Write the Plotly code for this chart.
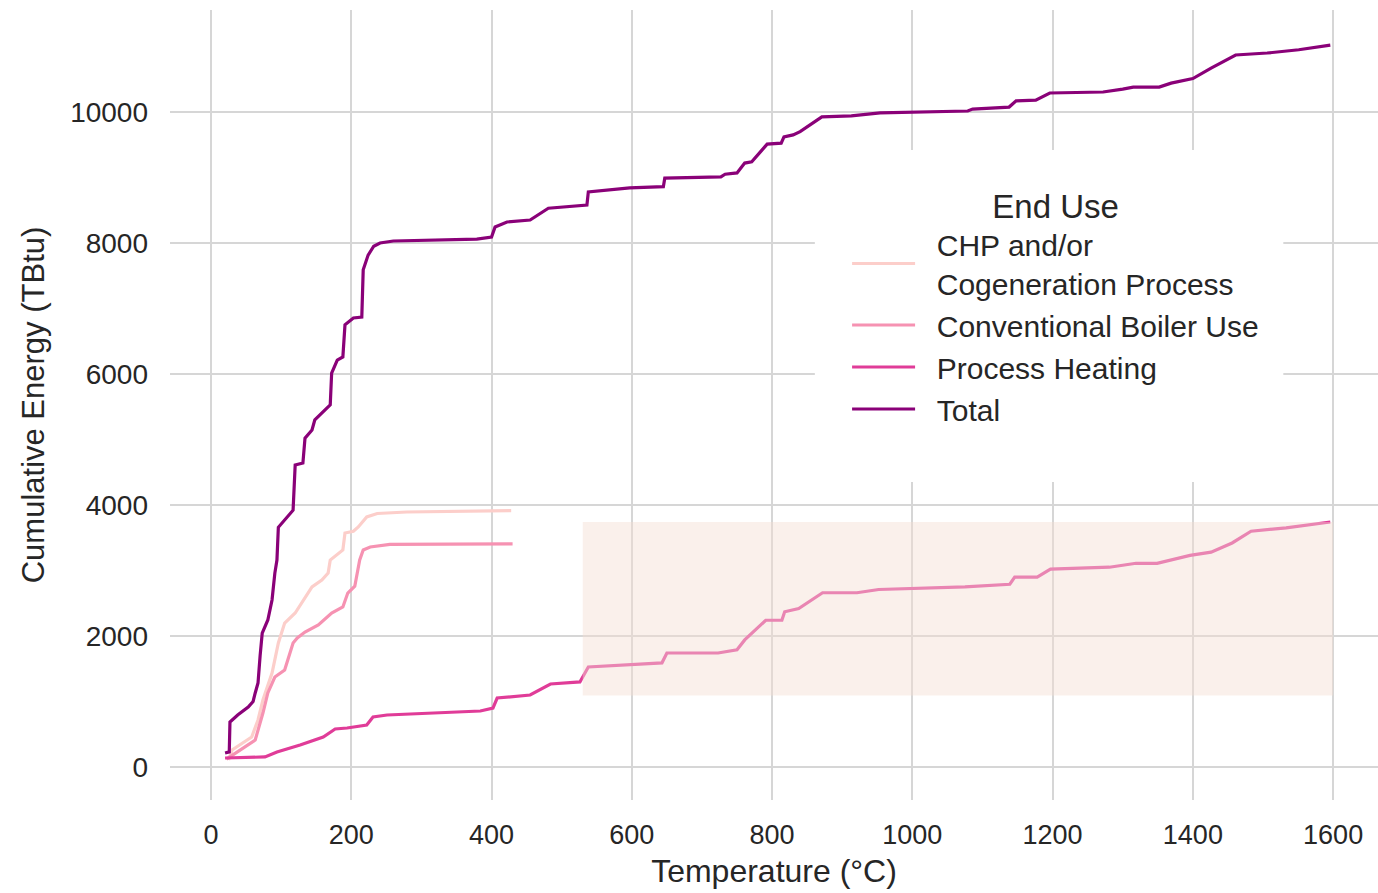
import plotly.graph_objects as go

# Cumulative energy vs. process temperature, by end use
chp_temp = [25, 30, 58, 67, 74, 87, 96, 105, 120, 134, 144, 158, 167, 170, 181, 188, 191,
            203, 210, 222, 237, 279, 428]
chp_energy = [107, 260, 458, 718, 1023, 1435, 1893, 2198, 2351, 2595, 2748, 2855, 2962, 3160,
              3250, 3313, 3572, 3600, 3664, 3817, 3870, 3893, 3915]

boiler_temp = [22, 40, 63, 74, 81, 91, 105, 117, 123, 134, 153, 172, 188, 195, 205, 212, 217,
               227, 255, 430]
boiler_energy = [120, 250, 412, 824, 1130, 1374, 1481, 1893, 1969, 2061, 2168, 2351, 2443,
                 2656, 2760, 3160, 3313, 3359, 3400, 3405]

heating_temp = [20, 77, 94, 127, 160, 177, 194, 222, 231, 251, 384, 402, 408, 455, 484, 526,
                538, 593, 643, 650, 723, 750, 761, 791, 814, 818, 838, 872, 921, 952, 1075,
                1139, 1146, 1178, 1197, 1281, 1319, 1349, 1396, 1426, 1456, 1483, 1533, 1596]
heating_energy = [137, 153, 229, 336, 458, 580, 595, 641, 763, 794, 855, 900, 1053, 1099, 1267,
                  1298, 1527, 1560, 1590, 1740, 1740, 1790, 1940, 2240, 2240, 2370, 2420, 2660,
                  2660, 2710, 2750, 2790, 2900, 2900, 3020, 3050, 3110, 3110, 3230, 3280, 3420,
                  3600, 3650, 3740]

total_temp = [20, 26, 27, 38, 53, 60, 63, 67, 70, 73, 81, 87, 91, 94, 96, 105, 117, 120, 131,
              134, 144, 148, 158, 170, 172, 180, 188, 191, 203, 215, 217, 224, 232, 241, 260,
              379, 400, 405, 422, 455, 481, 536, 538, 597, 645, 647, 727, 733, 750, 761, 771,
              793, 813, 817, 830, 840, 871, 913, 954, 1010, 1079, 1086, 1138, 1148, 1176, 1196,
              1272, 1300, 1315, 1352, 1369, 1400, 1426, 1461, 1506, 1551, 1596]
total_energy = [214, 230, 687, 794, 916, 1000, 1130, 1282, 1700, 2045, 2244, 2550, 2960, 3160,
                3660, 3770, 3920, 4610, 4640, 5020, 5145, 5300, 5400, 5530, 6015, 6210, 6260,
                6750, 6855, 6870, 7590, 7815, 7950, 8000, 8030, 8060, 8090, 8245, 8320, 8350,
                8530, 8580, 8780, 8840, 8860, 8990, 9010, 9050, 9070, 9220, 9240, 9510, 9525,
                9620, 9650, 9700, 9925, 9940, 9985, 10000, 10015, 10045, 10075, 10170, 10180,
                10290, 10305, 10350, 10380, 10380, 10440, 10510, 10670, 10870, 10900, 10950,
                11020]

x_ticks = [0, 200, 400, 600, 800, 1000, 1200, 1400, 1600]
y_ticks = [0, 2000, 4000, 6000, 8000, 10000]

PAD = "\u00a0\u00a0"  # small gap between legend swatch and label
series = [
    (PAD + "CHP and/or<br>" + PAD + "Cogeneration Process", chp_temp, chp_energy, "rgb(252,206,202)"),
    (PAD + "Conventional Boiler Use", boiler_temp, boiler_energy, "rgb(246,146,178)"),
    (PAD + "Process Heating", heating_temp, heating_energy, "rgb(224,60,152)"),
    (PAD + "Total", total_temp, total_energy, "rgb(138,1,120)"),
]

FONT = "Liberation Sans, Arial, sans-serif"
TEXT = "#262626"
GRID = "#d6d6d6"

fig = go.Figure()
for name, t, e, color in series:
    fig.add_trace(go.Scatter(x=t, y=e, mode="lines", name=name,
                             line=dict(color=color, width=3.2)))

# white panel behind the legend (hides the grid there)
fig.add_shape(type="rect", xref="x", yref="y", x0=861, x1=1529, y0=4351, y1=9420,
              fillcolor="white", line_width=0, layer="between")
# translucent highlight band over the high-temperature range
fig.add_shape(type="rect", xref="x", yref="y", x0=530, x1=1600, y0=1090, y1=3740,
              fillcolor="rgb(244,222,210)", opacity=0.45, line_width=0, layer="above")

fig.update_layout(
    width=1378, height=893,
    margin=dict(l=170, r=0, t=10, b=93),
    paper_bgcolor="white", plot_bgcolor="white",
    font=dict(family=FONT, color=TEXT, size=28),
    showlegend=True,
    legend=dict(
        title=dict(text="End Use", side="top center", font=dict(size=33, color=TEXT)),
        x=0.5605, y=0.791, xanchor="left", yanchor="top",
        bgcolor="rgba(255,255,255,0)", borderwidth=0,
        font=dict(size=30, color=TEXT, family=FONT),
        itemwidth=63, tracegroupgap=0,
    ),
    xaxis=dict(
        range=[-58.5, 1664], tickvals=x_ticks, ticktext=[str(v) for v in x_ticks],
        showgrid=True, gridcolor=GRID, gridwidth=2, zeroline=False, showline=False,
        ticks="", ticklabelstandoff=16, tickfont=dict(size=27),
        title=dict(text="Temperature (°C)", font=dict(size=32), standoff=10),
    ),
    yaxis=dict(
        range=[-504, 11557], tickvals=y_ticks, ticktext=[str(v) for v in y_ticks],
        showgrid=True, gridcolor=GRID, gridwidth=2, zeroline=False, showline=False,
        ticks="", ticklabelstandoff=21, tickfont=dict(size=28),
        title=dict(text="Cumulative Energy (TBtu)", font=dict(size=31), standoff=16),
    ),
)

fig.write_html("out.html")
